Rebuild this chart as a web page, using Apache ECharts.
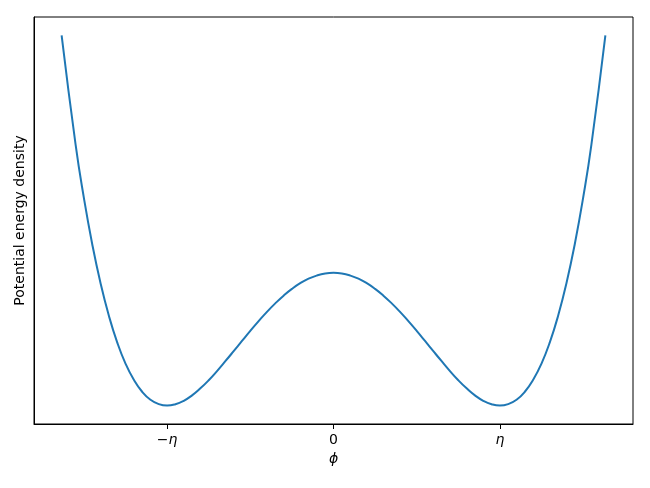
<!DOCTYPE html>
<html>
<head>
<meta charset="utf-8">
<script src="https://cdn.jsdelivr.net/npm/echarts@6/dist/echarts.min.js"></script>
<style>
  html, body { margin: 0; padding: 0; background: #fff; }
  #chart { width: 650px; height: 488px; }
</style>
</head>
<body>
<div id="chart"></div>
<script>
// field value in units of eta
const phi = [
  -1.634, -1.55, -1.5, -1.45, -1.4, -1.35, -1.3, -1.25, -1.2, -1.15, -1.1, -1.05,
  -1.0, -0.95, -0.9, -0.85, -0.8, -0.75, -0.7, -0.65, -0.6, -0.55, -0.5, -0.45,
  -0.4, -0.35, -0.3, -0.25, -0.2, -0.15, -0.1, -0.05, 0,
  0.05, 0.1, 0.15, 0.2, 0.25, 0.3, 0.35, 0.4, 0.45, 0.5, 0.55, 0.6, 0.65,
  0.7, 0.75, 0.8, 0.85, 0.9, 0.95, 1.0, 1.05, 1.1, 1.15, 1.2, 1.25,
  1.3, 1.35, 1.4, 1.45, 1.5, 1.55, 1.634
];
// potential energy density (minimum = 0, hump = 1)
const energy = [
  2.789, 1.967, 1.563, 1.216, 0.922, 0.677, 0.476, 0.316, 0.194, 0.104, 0.044, 0.011,
  0, 0.010, 0.036, 0.077, 0.130, 0.191, 0.260, 0.334, 0.410, 0.487, 0.563, 0.636,
  0.706, 0.770, 0.828, 0.879, 0.922, 0.956, 0.980, 0.995, 1,
  0.995, 0.980, 0.956, 0.922, 0.879, 0.828, 0.770, 0.706, 0.636, 0.563, 0.487, 0.410, 0.334,
  0.260, 0.191, 0.130, 0.077, 0.036, 0.010, 0, 0.011, 0.044, 0.104, 0.194, 0.316,
  0.476, 0.677, 0.922, 1.216, 1.563, 1.967, 2.789
];
const tickValues = [-1, 0, 1];
const tickLabels = { '-1': '−{i|η}', '0': '0', '1': '{i|η}' };

const chart = echarts.init(document.getElementById('chart'), null, { renderer: 'canvas' });

chart.setOption({
  animation: false,
  backgroundColor: '#fff',
  textStyle: { fontFamily: 'DejaVu Sans' },
  grid: {
    left: 34, right: 17, top: 17, bottom: 64,
    show: true, borderColor: '#000', borderWidth: 1
  },
  xAxis: {
    type: 'value',
    min: -1.8,
    max: 1.8,
    name: '{i|ϕ}',
    nameLocation: 'middle',
    nameGap: 28,
    nameTextStyle: {
      rich: { i: { fontFamily: 'DejaVu Sans', fontStyle: 'italic', fontSize: 14, color: '#000' } }
    },
    axisLine: { show: true, onZero: false, lineStyle: { color: '#000', width: 1 } },
    axisTick: { show: true, length: 5, customValues: tickValues, lineStyle: { color: '#000' } },
    axisLabel: {
      customValues: tickValues,
      margin: 9,
      fontSize: 14,
      color: '#000',
      formatter: v => tickLabels[String(v)],
      rich: { i: { fontFamily: 'DejaVu Sans', fontStyle: 'italic', fontSize: 14, color: '#000' } }
    },
    splitLine: { show: false }
  },
  yAxis: {
    type: 'value',
    min: -0.139,
    max: 2.928,
    name: 'Potential energy density',
    nameLocation: 'middle',
    nameGap: 7,
    nameTextStyle: { fontSize: 14, color: '#000', fontFamily: 'DejaVu Sans' },
    axisLine: { show: true, onZero: false, lineStyle: { color: '#000', width: 1 } },
    axisTick: { show: false },
    axisLabel: { show: false },
    splitLine: { show: false }
  },
  series: [{
    type: 'line',
    data: phi.map((p, i) => [p, energy[i]]),
    showSymbol: false,
    smooth: 0.5,
    lineStyle: { color: '#1f77b4', width: 2 }
  }]
});
</script>
</body>
</html>
